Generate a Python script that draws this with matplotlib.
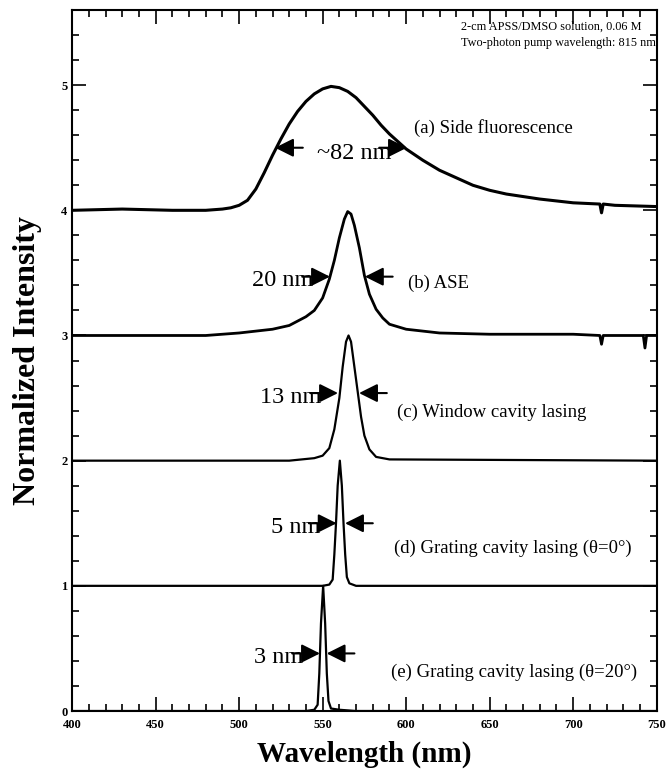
import numpy as np
import matplotlib.pyplot as plt
from matplotlib.ticker import MultipleLocator

plt.rcParams['font.family'] = ['Liberation Serif', 'DejaVu Serif']

# (a) side fluorescence, baseline 4
wl_a = [400, 430, 460, 480, 490, 495, 500, 505, 510, 515, 520, 525, 530, 535, 540, 545, 550,
        555, 560, 565, 570, 575, 580, 585, 590, 595, 600, 610, 620, 630, 640, 650, 660,
        680, 700, 716, 717, 718, 725, 750]
int_a = [4.0, 4.01, 4.0, 4.0, 4.01, 4.02, 4.04, 4.08, 4.17, 4.30, 4.44, 4.57, 4.69, 4.79, 4.87,
         4.93, 4.97, 4.99, 4.98, 4.95, 4.90, 4.83, 4.76, 4.68, 4.61, 4.55, 4.49, 4.40, 4.32,
         4.26, 4.20, 4.16, 4.13, 4.09, 4.06, 4.05, 3.98, 4.05, 4.04, 4.03]
# (b) ASE, baseline 3
wl_b = [400, 450, 480, 500, 520, 530, 540, 545, 550, 554, 557, 560, 563, 565, 567, 569,
        572, 575, 578, 582, 586, 590, 600, 620, 650, 700, 716, 717, 718, 740, 742, 743, 744, 750]
int_b = [3.0, 3.0, 3.0, 3.02, 3.05, 3.08, 3.15, 3.2, 3.3, 3.45, 3.6, 3.78, 3.93, 3.99, 3.97,
         3.88, 3.70, 3.48, 3.33, 3.21, 3.14, 3.09, 3.05, 3.02, 3.01, 3.01, 3.0, 2.93, 3.0,
         3.0, 3.0, 2.9, 3.0, 3.0]
# (c) window cavity lasing, baseline 2
wl_c = [400, 530, 545, 550, 554, 557, 560, 562, 564, 565.5, 567, 569, 571, 573, 575, 578,
        582, 590, 750]
int_c = [2.0, 2.0, 2.02, 2.04, 2.1, 2.25, 2.5, 2.75, 2.95, 3.0, 2.95, 2.75, 2.55, 2.35,
         2.2, 2.09, 2.03, 2.01, 2.0]
# (d) grating cavity lasing, theta = 0
wl_d = [400, 550, 554, 556, 557, 558, 559, 560.3, 561.5, 562.5, 563.5, 564.5, 566, 570, 750]
int_d = [1.0, 1.0, 1.01, 1.05, 1.25, 1.5, 1.8, 2.0, 1.8, 1.5, 1.25, 1.07, 1.02, 1.0, 1.0]
# (e) grating cavity lasing, theta = 20
wl_e = [400, 540, 545, 547, 548, 549, 550.3, 551.5, 552.5, 553.5, 555, 560, 570, 750]
int_e = [0.0, 0.0, 0.01, 0.05, 0.3, 0.7, 1.0, 0.7, 0.3, 0.08, 0.02, 0.01, 0.0, 0.0]

labels = ['(a) Side fluorescence', '(b) ASE', '(c) Window cavity lasing',
          '(d) Grating cavity lasing (θ=0°)',
          '(e) Grating cavity lasing (θ=20°)']
label_pos = [(604.5, 4.66), (601, 3.42), (594.5, 2.39), (592.5, 1.30), (591, 0.31)]
fwhm_text = ['~82 nm', '20 nm', '13 nm', '5 nm', '3 nm']
# half maximum points (left, right, height)
half_pts = [(521.5, 600.5, 4.5), (554.4, 575.3, 3.47), (559.2, 571.8, 2.54),
            (558.4, 563.4, 1.5), (548.4, 552.4, 0.46)]

fig = plt.figure(figsize=(6.68, 7.72), dpi=100)
ax = fig.add_axes([0.108, 0.079, 0.875, 0.908])

ax.plot(wl_a, int_a, color='black', lw=2.2)
ax.plot(wl_b, int_b, color='black', lw=2.0)
ax.plot(wl_c, int_c, color='black', lw=1.6)
ax.plot(wl_d, int_d, color='black', lw=1.6)
ax.plot(wl_e, int_e, color='black', lw=1.6)

ap = dict(arrowstyle='-|>,head_length=0.8,head_width=0.4', mutation_scale=14,
          color='black', lw=1.5, shrinkA=0, shrinkB=0)
for i, (xl, xr, yh) in enumerate(half_pts):
    if i == 0:
        # arrows point outwards, text in the middle
        ax.annotate('', xy=(xl, yh), xytext=(20, 0), textcoords='offset points', arrowprops=ap)
        ax.annotate('', xy=(xr, yh), xytext=(-20, 0), textcoords='offset points', arrowprops=ap)
        ax.text(569, yh - 0.05, fwhm_text[i], ha='center', va='center', fontsize=17.5)
    else:
        ax.annotate('', xy=(xl, yh), xytext=(-20, 0), textcoords='offset points', arrowprops=ap)
        ax.annotate('', xy=(xr, yh), xytext=(20, 0), textcoords='offset points', arrowprops=ap)
        ax.annotate(fwhm_text[i], xy=(xl, yh), xytext=(-12, -3), textcoords='offset points',
                    ha='right', va='center', fontsize=17.5)

for lab, (lx, ly) in zip(labels, label_pos):
    ax.text(lx, ly, lab, ha='left', va='center', fontsize=13.5)

ax.text(0.665, 0.985, '2-cm APSS/DMSO solution, 0.06 M\nTwo-photon pump wavelength: 815 nm',
        transform=ax.transAxes, ha='left', va='top', fontsize=8.8, linespacing=1.45)

ax.set_xlim(400, 750)
ax.set_ylim(0, 5.6)
ax.xaxis.set_major_locator(MultipleLocator(50))
ax.xaxis.set_minor_locator(MultipleLocator(10))
ax.yaxis.set_major_locator(MultipleLocator(1))
ax.yaxis.set_minor_locator(MultipleLocator(0.2))
ax.tick_params(which='both', direction='in', top=True, right=True, width=1.2)
ax.tick_params(which='major', length=10, labelsize=9)
ax.tick_params(axis='x', which='major', pad=6)
ax.tick_params(which='minor', length=5)
for lab in ax.get_xticklabels() + ax.get_yticklabels():
    lab.set_fontweight('bold')
for s in ax.spines.values():
    s.set_linewidth(1.5)

ax.set_xlabel('Wavelength (nm)', fontsize=21, fontweight='bold', labelpad=7)
ax.set_ylabel('Normalized Intensity', fontsize=23, fontweight='bold', labelpad=14)

fig.savefig('out.png', dpi=100)
